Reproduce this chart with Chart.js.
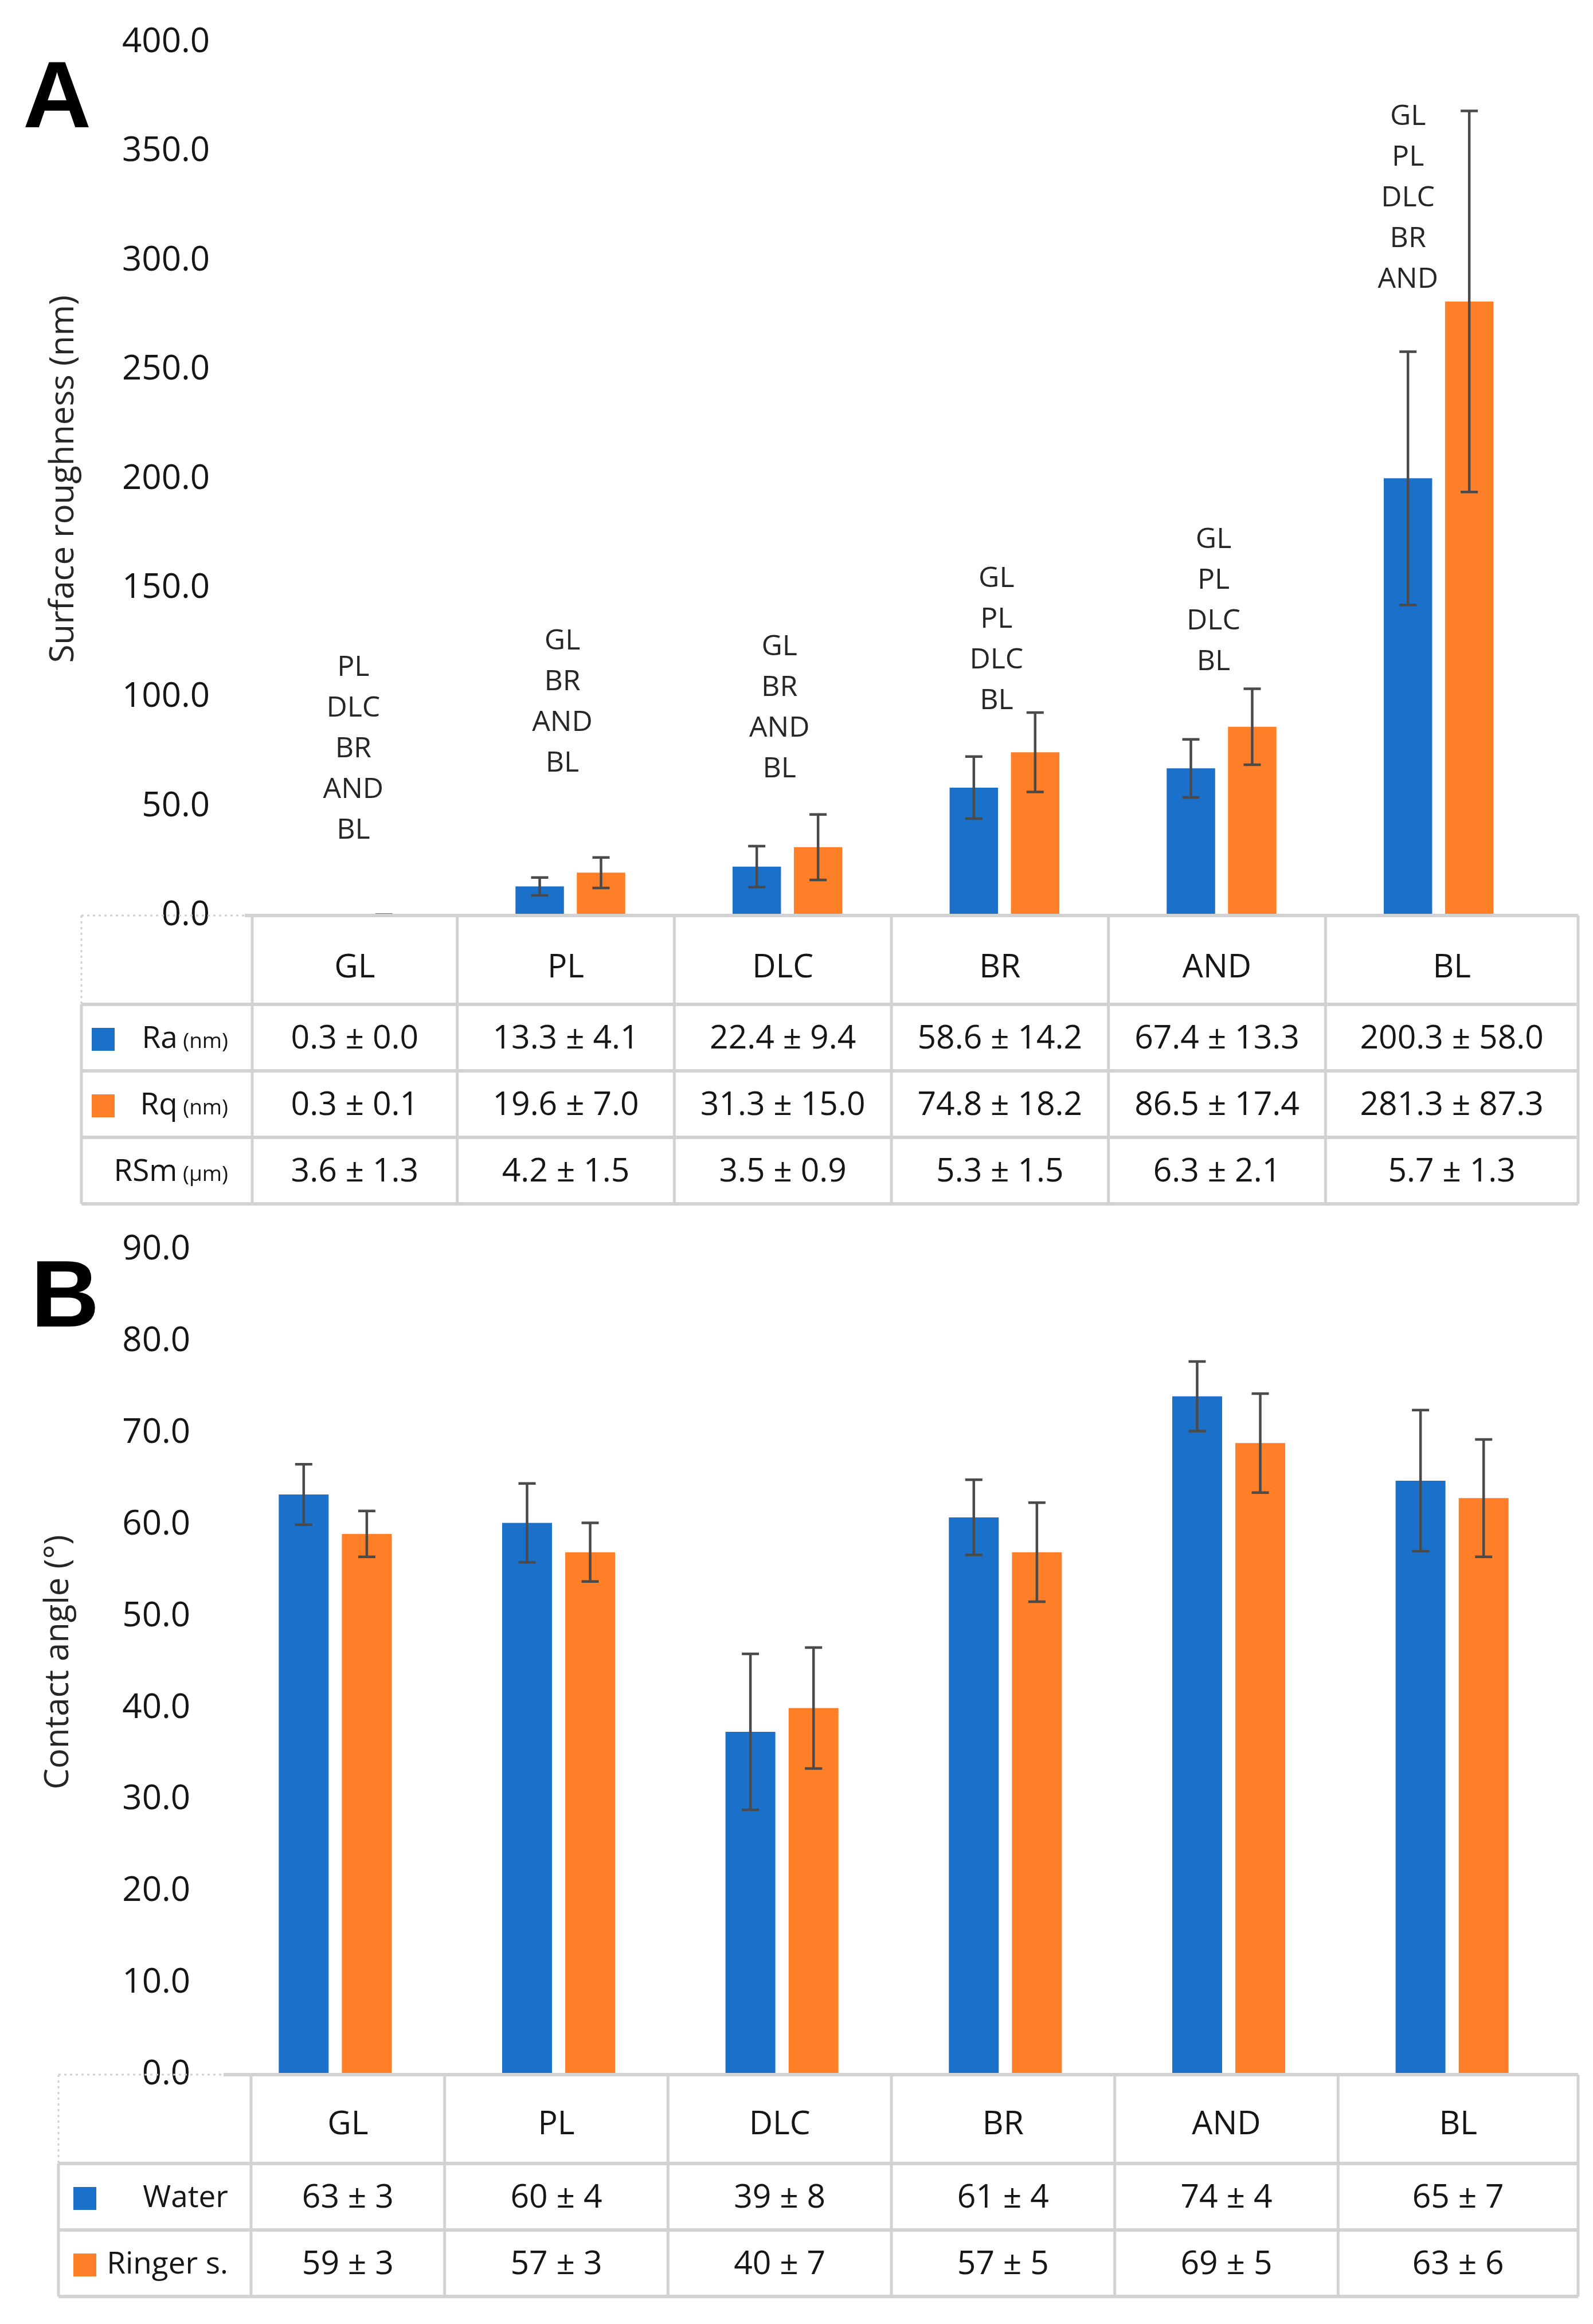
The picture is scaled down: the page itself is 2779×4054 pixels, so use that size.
<!DOCTYPE html>
<html><head><meta charset="utf-8">
<script src="https://cdn.jsdelivr.net/npm/chart.js@4.4.1/dist/chart.umd.min.js"></script>
<style>
html,body{margin:0;padding:0;background:#fff;}
#wrap{position:relative;width:2779px;height:4054px;overflow:hidden;background:#fff;}
canvas{position:absolute;left:0;}
</style></head><body>
<div id="wrap">
<canvas id="cA" width="2779" height="2110" style="top:0;width:2779px;height:2110px"></canvas>
<canvas id="cB" width="2779" height="1944" style="top:2110px;width:2779px;height:1944px"></canvas>
</div>
<script>
// ---------- DATA ----------
const categories = ['GL', 'PL', 'DLC', 'BR', 'AND', 'BL'];

// Panel A: surface roughness
const raMean  = [0.3, 13.3, 22.4, 58.6, 67.4, 200.3];
const raSD    = [0.0, 4.1, 9.4, 14.2, 13.3, 58.0];
const rqMean  = [0.3, 19.6, 31.3, 74.8, 86.5, 281.3];
const rqSD    = [0.1, 7.0, 15.0, 18.2, 17.4, 87.3];
const rsmMean = [3.6, 4.2, 3.5, 5.3, 6.3, 5.7];
const rsmSD   = [1.3, 1.5, 0.9, 1.5, 2.1, 1.3];
const roughnessAxis = {min: 0, max: 400, step: 50};
const sigLetters = [
  ['PL', 'DLC', 'BR', 'AND', 'BL'],
  ['GL', 'BR', 'AND', 'BL'],
  ['GL', 'BR', 'AND', 'BL'],
  ['GL', 'PL', 'DLC', 'BL'],
  ['GL', 'PL', 'DLC', 'BL'],
  ['GL', 'PL', 'DLC', 'BR', 'AND']
];
// value (nm) at which the lowest letter of each stack sits
const sigLetterBase = [39, 69.6, 67.0, 98.2, 116.1, 291.3];

// Panel B: contact angle (bars as drawn) and table values (as printed)
const waterAngle  = [63.3, 60.2, 37.4, 60.8, 74.0, 64.8];
const waterErr    = [3.3, 4.3, 8.5, 4.1, 3.8, 7.7];
const ringerAngle = [59.0, 57.0, 40.0, 57.0, 68.9, 62.9];
const ringerErr   = [2.5, 3.2, 6.6, 5.4, 5.4, 6.4];
const waterTable    = [63, 60, 39, 61, 74, 65];
const waterTableSD  = [3, 4, 8, 4, 4, 7];
const ringerTable   = [59, 57, 40, 57, 69, 63];
const ringerTableSD = [3, 3, 7, 5, 5, 6];
const angleAxis = {min: 0, max: 90, step: 10};

// ---------- STYLE ----------
const BLUE = '#1b70ca';
const ORANGE = '#fe7f27';
const TEXT = '#161616';
const GRID = '#d2d2d2';
const FONT = "'Open Sans', 'Noto Sans', sans-serif";

const errorBarPlugin = {
  id: 'errorBarPlugin',
  afterDatasetsDraw(chart) {
    const ctx = chart.ctx, y = chart.scales.y;
    chart.data.datasets.forEach((ds, di) => {
      const meta = chart.getDatasetMeta(di);
      meta.data.forEach((bar, i) => {
        const v = ds.data[i], e = ds.errors[i];
        if (!e) return;
        const yt = y.getPixelForValue(v + e), yb = y.getPixelForValue(v - e);
        ctx.save();
        ctx.strokeStyle = '#4a4a4a';
        ctx.lineWidth = 4.5;
        ctx.beginPath();
        ctx.moveTo(bar.x, yt); ctx.lineTo(bar.x, yb);
        ctx.moveTo(bar.x - 15, yt); ctx.lineTo(bar.x + 15, yt);
        ctx.moveTo(bar.x - 15, yb); ctx.lineTo(bar.x + 15, yb);
        ctx.stroke();
        ctx.restore();
      });
    });
  }
};

function panelLetterPlugin(letter, x, y) {
  return {
    id: 'panelLetter' + letter,
    afterDraw(chart) {
      const ctx = chart.ctx;
      ctx.save();
      ctx.fillStyle = '#000';
      ctx.font = "bold 165px 'Liberation Sans', Arial, sans-serif";
      ctx.textAlign = 'left';
      ctx.textBaseline = 'alphabetic';
      ctx.fillText(letter, x, y);
      ctx.restore();
    }
  };
}

const sigLetterPlugin = {
  id: 'sigLetterPlugin',
  afterDatasetsDraw(chart) {
    const ctx = chart.ctx, xs = chart.scales.x, ys = chart.scales.y;
    const meta0 = chart.getDatasetMeta(0);
    ctx.save();
    ctx.fillStyle = '#262626';
    ctx.font = '50px ' + FONT;
    ctx.textAlign = 'center';
    ctx.textBaseline = 'middle';
    sigLetters.forEach((lines, i) => {
      const x = (i === categories.length - 1) ? meta0.data[i].x : xs.getPixelForValue(i) - (i === 0 ? 0 : 14);
      const yb = ys.getPixelForValue(sigLetterBase[i]);
      const n = lines.length;
      lines.forEach((t, k) => {
        ctx.fillText(t, x, yb - (n - 1 - k) * 71);
      });
    });
    ctx.restore();
  }
};

function tablePlugin(cfg) {
  return {
    id: 'tablePlugin' + cfg.name,
    afterDraw(chart) {
      const ctx = chart.ctx, xs = chart.scales.x, ca = chart.chartArea;
      const top = ca.bottom;
      const edgesY = [top, top + cfg.headerH];
      cfg.rows.forEach(() => edgesY.push(edgesY[edgesY.length - 1] + cfg.rowH));
      const bottom = edgesY[edgesY.length - 1];
      const edgesX = [cfg.firstCol];
      for (let i = 0; i < categories.length - 1; i++) {
        edgesX.push((xs.getPixelForValue(i) + xs.getPixelForValue(i + 1)) / 2 - cfg.midShift);
      }
      edgesX.push(cfg.right);
      const solidStart = Math.min(ca.left, cfg.firstCol);

      ctx.save();
      // dotted corner cell
      ctx.strokeStyle = '#cfcfcf';
      ctx.lineWidth = 3;
      ctx.setLineDash([4, 6]);
      ctx.beginPath();
      ctx.moveTo(cfg.leftOuter, top); ctx.lineTo(solidStart, top);
      ctx.moveTo(cfg.leftOuter, top); ctx.lineTo(cfg.leftOuter, edgesY[1]);
      ctx.stroke();
      ctx.setLineDash([]);

      ctx.strokeStyle = GRID;
      // horizontal lines
      ctx.lineWidth = 6;
      ctx.beginPath();
      ctx.moveTo(solidStart, top); ctx.lineTo(cfg.right, top);
      for (let r = 1; r < edgesY.length; r++) {
        ctx.moveTo(cfg.leftOuter, edgesY[r]); ctx.lineTo(cfg.right, edgesY[r]);
      }
      ctx.stroke();
      // vertical lines
      ctx.lineWidth = 5;
      ctx.beginPath();
      ctx.moveTo(cfg.leftOuter, edgesY[1]); ctx.lineTo(cfg.leftOuter, bottom);
      edgesX.forEach(x => { ctx.moveTo(x, top); ctx.lineTo(x, bottom); });
      ctx.stroke();

      // header
      ctx.fillStyle = TEXT;
      ctx.textAlign = 'center';
      ctx.textBaseline = 'middle';
      ctx.font = '57px ' + FONT;
      categories.forEach((c, i) => {
        ctx.fillText(c, (edgesX[i] + edgesX[i + 1]) / 2, top + cfg.headerTextDy);
      });
      // rows
      cfg.rows.forEach((row, r) => {
        const cy = (edgesY[r + 1] + edgesY[r + 2]) / 2 + 3;
        ctx.font = '57px ' + FONT;
        ctx.textAlign = 'center';
        ctx.fillStyle = TEXT;
        row.cells.forEach((t, i) => {
          ctx.fillText(t, (edgesX[i] + edgesX[i + 1]) / 2, cy);
        });
        // label, right aligned
        ctx.textAlign = 'left';
        ctx.font = '53px ' + FONT;
        const wMain = ctx.measureText(row.label).width;
        let wSub = 0;
        if (row.sub) { ctx.font = '37px ' + FONT; wSub = ctx.measureText(' ' + row.sub).width; }
        const x0 = cfg.labelRight - wMain - wSub;
        ctx.font = '53px ' + FONT;
        ctx.fillText(row.label, x0, cy);
        if (row.sub) { ctx.font = '37px ' + FONT; ctx.fillText(' ' + row.sub, x0 + wMain, cy + 4); }
        if (row.color) {
          ctx.fillStyle = row.color;
          ctx.fillRect(cfg.swatchX, cy - 20, 40, 40);
        }
      });
      ctx.restore();
    }
  };
}

function pm(m, s, d) { return m.toFixed(d) + ' \u00b1 ' + s.toFixed(d); }

function baseOptions(o) {
  return {
    responsive: false,
    animation: false,
    devicePixelRatio: 1,
    layout: {padding: {top: o.top, right: o.right, bottom: o.bottom, left: 0}},
    plugins: {legend: {display: false}, tooltip: {enabled: false}},
    scales: {
      x: {display: false, offset: true, grid: {display: false}},
      y: {
        min: o.axis.min, max: o.axis.max,
        grid: {display: false, drawTicks: true, tickLength: o.tickPad},
        border: {display: false},
        ticks: {
          stepSize: o.axis.step, padding: 0, color: TEXT,
          font: {family: FONT, size: 60},
          callback: v => Number(v).toFixed(1)
        },
        title: {display: true, text: o.title, color: '#262626',
                font: {family: FONT, size: 58}, padding: {top: o.titlePad, bottom: 0}},
        afterFit: s => { s.width = o.axisWidth; }
      }
    }
  };
}

// ---------- CHART A ----------
new Chart(document.getElementById('cA'), {
  type: 'bar',
  data: {
    labels: categories,
    datasets: [
      {label: 'Ra', data: raMean, errors: raSD, backgroundColor: BLUE,
       categoryPercentage: 0.565, barPercentage: 0.79},
      {label: 'Rq', data: rqMean, errors: rqSD, backgroundColor: ORANGE,
       categoryPercentage: 0.565, barPercentage: 0.79}
    ]
  },
  options: baseOptions({top: 74, right: 80, bottom: 2110 - 1597, axis: roughnessAxis,
    tickPad: 61, title: 'Surface roughness (nm)', titlePad: 77, axisWidth: 427}),
  plugins: [errorBarPlugin, sigLetterPlugin, panelLetterPlugin('A', 40, 222),
    tablePlugin({
      name: 'A', leftOuter: 142, firstCol: 440, right: 2753, headerH: 155, rowH: 116,
      headerTextDy: 92, labelRight: 398, swatchX: 160, midShift: 8,
      rows: [
        {label: 'Ra', sub: '(nm)', color: BLUE, cells: raMean.map((m, i) => pm(m, raSD[i], 1))},
        {label: 'Rq', sub: '(nm)', color: ORANGE, cells: rqMean.map((m, i) => pm(m, rqSD[i], 1))},
        {label: 'RSm', sub: '(\u00b5m)', color: null, cells: rsmMean.map((m, i) => pm(m, rsmSD[i], 1))}
      ]
    })]
});

// ---------- CHART B ----------
new Chart(document.getElementById('cB'), {
  type: 'bar',
  data: {
    labels: categories,
    datasets: [
      {label: 'Water', data: waterAngle, errors: waterErr, backgroundColor: BLUE,
       categoryPercentage: 0.565, barPercentage: 0.79},
      {label: 'Ringer s.', data: ringerAngle, errors: ringerErr, backgroundColor: ORANGE,
       categoryPercentage: 0.565, barPercentage: 0.79}
    ]
  },
  options: baseOptions({top: 70, right: 51, bottom: 1944 - 1509, axis: angleAxis,
    tickPad: 58, title: 'Contact angle (\u00b0)', titlePad: 68, axisWidth: 390}),
  plugins: [errorBarPlugin, panelLetterPlugin('B', 54, 204),
    tablePlugin({
      name: 'B', leftOuter: 102, firstCol: 438, right: 2753, headerH: 155, rowH: 116,
      headerTextDy: 88, labelRight: 398, swatchX: 128, midShift: 4,
      rows: [
        {label: 'Water', sub: null, color: BLUE, cells: waterTable.map((m, i) => pm(m, waterTableSD[i], 0))},
        {label: 'Ringer s.', sub: null, color: ORANGE, cells: ringerTable.map((m, i) => pm(m, ringerTableSD[i], 0))}
      ]
    })]
});
</script>
</body></html>
